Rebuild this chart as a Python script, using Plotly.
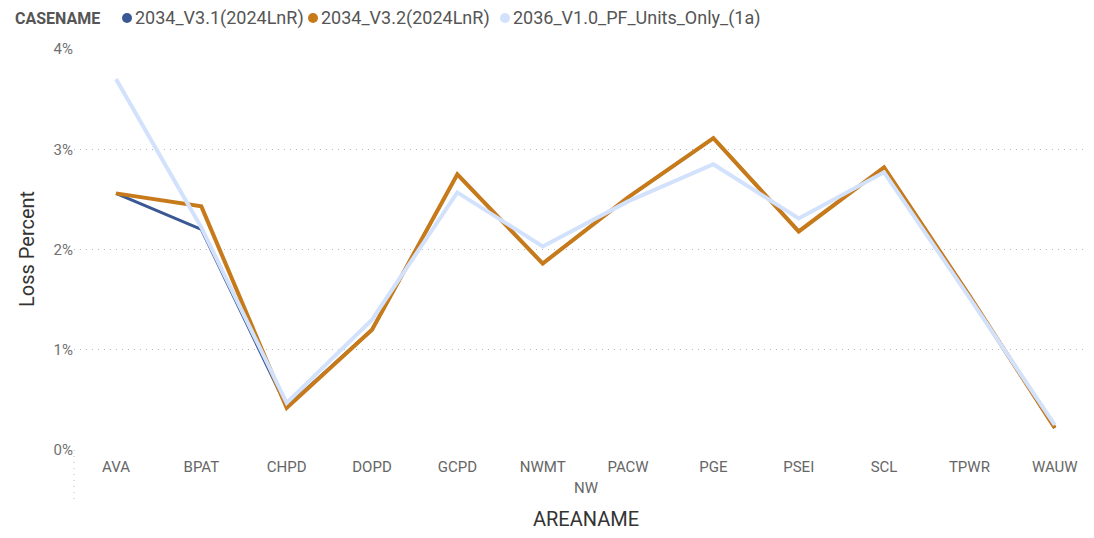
import plotly.graph_objects as go

categories = ["AVA", "BPAT", "CHPD", "DOPD", "GCPD", "NWMT", "PACW", "PGE", "PSEI", "SCL", "TPWR", "WAUW"]
series_names = ["2034_V3.1(2024LnR)", "2034_V3.2(2024LnR)", "2036_V1.0_PF_Units_Only_(1a)"]
v31 = [2.56, 2.20, 0.43, 1.20, 2.75, 1.86, 2.52, 3.11, 2.18, 2.82, 1.54, 0.22]
v32 = [2.56, 2.43, 0.42, 1.20, 2.75, 1.86, 2.52, 3.11, 2.18, 2.82, 1.54, 0.22]
v36 = [3.70, 2.22, 0.47, 1.30, 2.57, 2.03, 2.48, 2.85, 2.31, 2.77, 1.52, 0.25]
y_ticks = [0, 1, 2, 3, 4]
group_label = "NW"
x_title = "AREANAME"
y_title = "Loss Percent"
legend_title = "CASENAME"

colors = ["#3A5894", "#C77A1A", "#D3E2FC"]
widths = [3, 4, 4]

fig = go.Figure()
for name, vals, c, w in zip(series_names, [v31, v32, v36], colors, widths):
    fig.add_trace(go.Scatter(x=categories, y=vals, mode="lines", name=name,
                             line=dict(color=c, width=w), showlegend=False))

OFF = 8  # page body margin
W, H = 1094 - OFF, 538 - OFF
L, R = 74 - OFF, 1094 - OFF
T, B = 49 - OFF, 450 - OFF
pw, ph = R - L, B - T

def px(x):
    return (x - OFF - L) / pw

def py(y):
    return (B - (y - OFF)) / ph

fig.update_layout(
    width=W, height=H,
    margin=dict(l=L, r=W - R, t=T, b=H - B),
    paper_bgcolor="white", plot_bgcolor="white",
    showlegend=False,
    font=dict(family="Roboto, sans-serif", color="#666"),
)
fig.update_xaxes(
    type="category", range=[-0.492, 11.46],
    showgrid=False, showline=False, zeroline=False,
    ticks="outside", ticklen=3, tickcolor="rgba(0,0,0,0)",
    tickfont=dict(size=15, color="#666"),
)
fig.update_yaxes(
    range=[0, 4.0], tickvals=y_ticks, ticktext=[f"{t}%" for t in y_ticks],
    showgrid=True, gridcolor="#b8b8b8", griddash="1px,5px", gridwidth=1,
    zeroline=False, showline=False,
    tickfont=dict(size=15, color="#707070"),
)

# hierarchy separator line at the left
fig.add_shape(type="line", xref="paper", yref="paper", x0=0, x1=0, y0=0, y1=py(500),
              line=dict(color="#b8b8b8", width=1, dash="1px,5px"))

ann = []
ann.append(dict(text=group_label, xref="paper", yref="paper", x=px(586), y=py(488),
                showarrow=False, font=dict(size=15, color="#666"), xanchor="center", yanchor="middle"))
ann.append(dict(text=x_title, xref="paper", yref="paper", x=px(586), y=py(519),
                showarrow=False, font=dict(size=20, color="#333"), xanchor="center", yanchor="middle"))
ann.append(dict(text=y_title, xref="paper", yref="paper", x=px(27), y=py(249), textangle=-90,
                showarrow=False, font=dict(size=20, color="#333"), xanchor="center", yanchor="middle"))
# legend
ann.append(dict(text=f"<b>{legend_title}</b>", xref="paper", yref="paper", x=px(13), y=py(18),
                showarrow=False, font=dict(size=16, color="#555"), xanchor="left", yanchor="middle"))
circle_x = [127, 313, 505]
for name, c, cx in zip(series_names, colors, circle_x):
    fig.add_shape(type="circle", xref="paper", yref="paper",
                  x0=px(cx - 5), x1=px(cx + 5), y0=py(23), y1=py(13),
                  fillcolor=c, line=dict(width=0))
    ann.append(dict(text=name, xref="paper", yref="paper",
                    x=px(cx + 6), y=py(18), showarrow=False, font=dict(size=18, color="#555"),
                    xanchor="left", yanchor="middle"))
fig.update_layout(annotations=ann)

fig.write_html("out.html")
